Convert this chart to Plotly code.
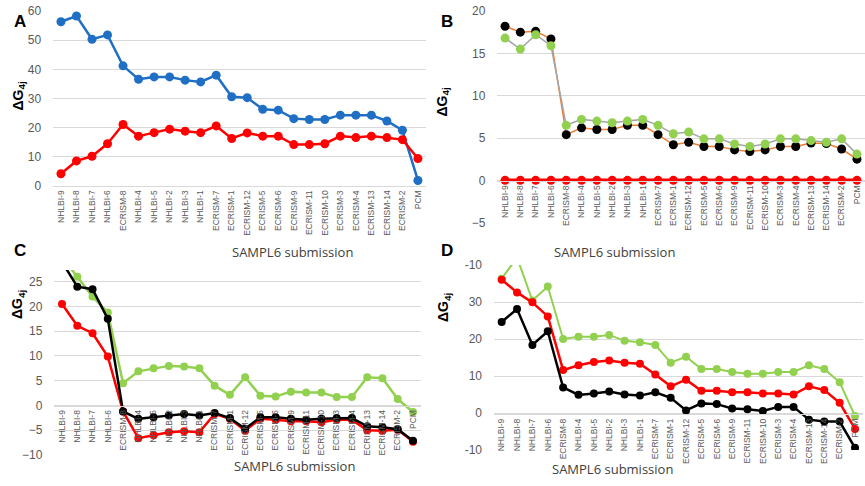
import plotly.graph_objects as go

categories = ["NHLBI-9", "NHLBI-8", "NHLBI-7", "NHLBI-6", "ECRISM-8", "NHLBI-4", "NHLBI-5",
              "NHLBI-2", "NHLBI-3", "NHLBI-1", "ECRISM-7", "ECRISM-1", "ECRISM-12", "ECRISM-5",
              "ECRISM-6", "ECRISM-9", "ECRISM-11", "ECRISM-10", "ECRISM-3", "ECRISM-4",
              "ECRISM-13", "ECRISM-14", "ECRISM-2", "PCM"]

# Panel A
a_blue = [56.3, 58.3, 50.3, 51.8, 41.2, 36.6, 37.4, 37.4, 36.3, 35.7, 38.0, 30.6, 30.3, 26.3,
          26.0, 23.1, 22.8, 22.8, 24.3, 24.3, 24.3, 22.3, 19.1, 1.9]
a_red = [4.2, 8.6, 10.2, 14.5, 21.1, 17.1, 18.3, 19.5, 18.8, 18.3, 20.6, 16.3, 18.2, 17.1,
         17.1, 14.2, 14.2, 14.5, 17.1, 16.6, 17.1, 16.6, 15.9, 9.4]

# Panel B
b_black = [18.2, 17.5, 17.6, 16.7, 5.4, 6.2, 6.0, 6.0, 6.5, 6.5, 5.4, 4.2, 4.5, 4.0, 4.0, 3.6,
           3.4, 3.6, 4.0, 4.0, 4.4, 4.35, 3.7, 2.5]
b_green = [16.8, 15.5, 17.2, 15.9, 6.5, 7.2, 7.0, 6.8, 7.0, 7.2, 6.5, 5.5, 5.7, 4.9, 4.9, 4.3,
           4.0, 4.3, 4.9, 4.9, 4.7, 4.5, 4.9, 3.1]
b_red = [0.0] * 24

# Panel C
c_black = [29.0, 24.0, 23.5, 17.5, -1.2, -2.7, -2.35, -2.0, -1.7, -2.0, -1.5, -2.55, -4.7, -2.35,
           -2.35, -2.7, -2.9, -2.7, -2.55, -2.55, -4.2, -4.4, -4.8, -7.1]
c_red = [20.5, 16.1, 14.6, 9.9, -1.2, -6.6, -6.0, -5.4, -5.2, -5.4, -1.7, -2.7, -5.1, -2.7,
         -2.9, -3.2, -3.2, -3.4, -2.9, -2.9, -5.0, -5.1, -4.9, -7.3]
c_green = [30.0, 26.0, 22.0, 18.8, 4.5, 6.9, 7.5, 8.0, 7.9, 7.5, 4.0, 2.15, 5.7, 1.95, 1.8, 2.8,
           2.6, 2.6, 1.7, 1.7, 5.7, 5.5, 1.3, -1.3]

# Panel D
d_green = [36.3, 42.0, 30.4, 34.2, 20.0, 20.6, 20.6, 21.1, 19.5, 19.1, 18.4, 13.6, 15.2, 11.9,
           11.9, 11.1, 10.6, 10.6, 11.1, 11.1, 12.9, 11.9, 8.3, -0.8]
d_red = [36.0, 32.6, 29.9, 26.1, 11.6, 12.9, 13.8, 14.2, 13.6, 13.3, 10.4, 7.2, 9.0, 6.0, 6.0,
         5.6, 5.6, 5.3, 5.3, 5.0, 7.2, 6.2, 2.75, -4.3]
d_black = [24.6, 28.1, 18.4, 22.1, 6.9, 4.9, 5.3, 5.8, 5.0, 4.7, 5.6, 4.1, 0.7, 2.6, 2.4, 1.2,
           1.0, 0.55, 1.65, 1.65, -1.8, -2.3, -2.3, -9.4]

d_tickvals = [-10, 0, 10, 20, 30, 40]
d_ticktext = ["-10", "0", "10", "20", "30", "-10"]

BLUE = "#1F6FC5"
RED = "#FF0000"
GREEN = "#92D050"
ORANGE = "#ED7D31"
GRAY = "#A5A5A5"
BLACK = "#000000"

W, H = 865, 486


def px(x):
    return x / W


def py(y):
    return 1 - y / H


fig = go.Figure()


def add(y, xa, ya, mcolor, lcolor, lw, ms=9):
    fig.add_trace(go.Scatter(x=categories, y=y, xaxis=xa, yaxis=ya, mode="lines+markers",
                             line=dict(color=lcolor, width=lw),
                             marker=dict(color=mcolor, size=ms), showlegend=False))


add(a_blue, "x", "y", BLUE, BLUE, 2.5)
add(a_red, "x", "y", RED, RED, 2.5)

add(b_red, "x2", "y2", RED, RED, 3.5)
add(b_black, "x2", "y2", BLACK, ORANGE, 1.5)
add(b_green, "x2", "y2", GREEN, GRAY, 1.5)

add(c_red, "x3", "y3", RED, RED, 2.5, 8)
add(c_green, "x3", "y3", GREEN, GREEN, 2.5, 8)
add(c_black, "x3", "y3", BLACK, BLACK, 2.5, 8)

add(d_green, "x4", "y4", GREEN, GREEN, 2, 8)
add(d_red, "x4", "y4", RED, RED, 2.5, 8)
add(d_black, "x4", "y4", BLACK, BLACK, 2.5, 8)

TICKFONT_X = dict(family="Liberation Sans", size=8.5, color="#595959")
TICKFONT_Y = dict(family="Liberation Sans", size=12, color="#595959")
GRID = "#D9D9D9"


def xaxis(dom, anchor, position=None):
    d = dict(domain=dom, type="category", range=[-0.5, 23.5], tickangle=-90,
             tickfont=TICKFONT_X, showgrid=False, showline=True, linecolor=GRID,
             linewidth=1, ticks="", fixedrange=True, automargin=False)
    if position is None:
        d["anchor"] = anchor
    else:
        d["anchor"] = "free"
        d["position"] = position
    return d


def yaxis(dom, rng, anchor, dtick, **kw):
    d = dict(domain=dom, range=rng, anchor=anchor, dtick=dtick, tickfont=TICKFONT_Y,
             showgrid=True, gridcolor=GRID, gridwidth=1, zeroline=False, showline=False,
             ticks="", ticklabelstandoff=11, fixedrange=True, automargin=False)
    d.update(kw)
    return d


fig.update_layout(
    width=W, height=H, margin=dict(l=0, r=0, t=0, b=0, pad=0),
    paper_bgcolor="white", plot_bgcolor="white",
    xaxis=xaxis([px(53.2), px(425.7)], "y"),
    yaxis=yaxis([py(186), py(11)], [0, 60], "x", 10),
    xaxis2=xaxis([px(497.4), px(864.6)], "y2", position=py(181)),
    yaxis2=yaxis([py(222.7), py(11)], [-5, 20], "x2", 5),
    xaxis3=xaxis([px(54.4), px(420.6)], "y3", position=py(405.7)),
    yaxis3=yaxis([py(455), py(270)], [-10, 27.37], "x3", 5),
    xaxis4=xaxis([px(494), px(862.7)], "y4", position=py(414.3)),
    yaxis4=yaxis([py(450), py(265)], [-10, 40], "x4", 10,
                 tickmode="array", tickvals=d_tickvals, ticktext=d_ticktext),
)

ann = []
for letter, x, y in [("A", 12, 10), ("B", 447, 10), ("C", 12, 250), ("D", 447, 250)]:
    ann.append(dict(text=f"<b>{letter}</b>", x=px(x), y=py(y), xref="paper", yref="paper",
                    showarrow=False, font=dict(family="Liberation Sans", size=17, color="black")))
for x, y in [(7, 80), (443, 86), (7, 305), (444, 307)]:
    ann.append(dict(text="<b>ΔG<sub>4j</sub></b>", x=px(x), y=py(y), xref="paper", yref="paper",
                    showarrow=False, textangle=-90,
                    font=dict(family="Liberation Sans", size=14, color="black")))
for x, y in [(230, 252), (677, 252), (232, 477), (675, 480)]:
    ann.append(dict(text="SAMPL6 submission", x=px(x), y=py(y), xref="paper", yref="paper",
                    showarrow=False, font=dict(family="Open Sans", size=13, color="#404040")))
fig.update_layout(annotations=ann)

fig.write_html("out.html", config={"displayModeBar": False},
               post_script="document.body.style.margin='0px';")
